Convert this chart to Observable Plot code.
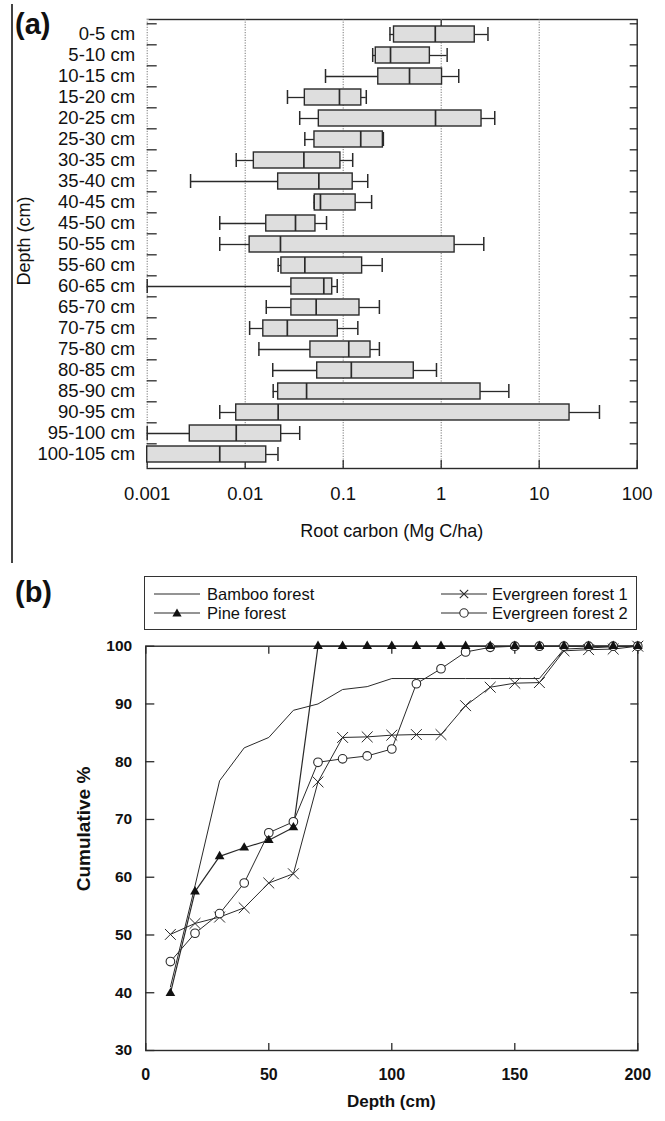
<!DOCTYPE html>
<html>
<head>
<meta charset="utf-8">
<script src="https://cdn.jsdelivr.net/npm/d3@7"></script>
<script src="https://cdn.jsdelivr.net/npm/@observablehq/plot@0.6"></script>
<style>
  html, body { margin: 0; padding: 0; background: #fff; }
  #page { position: relative; width: 665px; height: 1121px; overflow: hidden; background: #fff;
          font-family: "Liberation Sans", Arial, Helvetica, sans-serif; color: #111; }
  .abs { position: absolute; white-space: nowrap; line-height: 1; }
  #page svg.plot { position: absolute; left: 0; }
</style>
</head>
<body>
<div id="page"></div>
<script>
// ---------------- Panel (a) data: root carbon by depth class (Mg C/ha) ----------------
const depthClasses = ["0-5 cm","5-10 cm","10-15 cm","15-20 cm","20-25 cm","25-30 cm","30-35 cm",
  "35-40 cm","40-45 cm","45-50 cm","50-55 cm","55-60 cm","60-65 cm","65-70 cm","70-75 cm",
  "75-80 cm","80-85 cm","85-90 cm","90-95 cm","95-100 cm","100-105 cm"];
const whiskerLow  = [0.30, 0.20, 0.066, 0.027, 0.036, 0.0406, 0.0081, 0.00277, 0.0505, 0.0055, 0.0055,
  0.0217, 0.001, 0.0164, 0.0111, 0.0138, 0.0191, 0.0193, 0.0055, 0.001, 0.001];
const quartile1   = [0.33, 0.215, 0.228, 0.0406, 0.0564, 0.0509, 0.01225, 0.0217, 0.0513, 0.0164, 0.0111,
  0.0234, 0.0296, 0.0296, 0.0153, 0.0463, 0.0543, 0.0217, 0.0081, 0.00272, 0.001];
const medians     = [0.87, 0.304, 0.475, 0.0916, 0.875, 0.151, 0.0397, 0.0564, 0.0586, 0.0326, 0.0229,
  0.0406, 0.0634, 0.053, 0.0269, 0.114, 0.121, 0.0423, 0.0217, 0.0081, 0.0055];
const quartile3   = [2.2, 0.766, 1.02, 0.153, 2.58, 0.254, 0.0937, 0.125, 0.134, 0.0521, 1.37,
  0.156, 0.0773, 0.1466, 0.0881, 0.19, 0.525, 2.52, 20.4, 0.0233, 0.0164];
const whiskerHigh = [3.0, 1.15, 1.51, 0.172, 3.52, 0.257, 0.125, 0.178, 0.195, 0.0676, 2.72,
  0.25, 0.0869, 0.234, 0.141, 0.234, 0.895, 4.9, 41.2, 0.036, 0.0216];
const xTickValues = [0.001, 0.01, 0.1, 1, 10, 100];
const xTickLabels = ["0.001", "0.01", "0.1", "1", "10", "100"];
const gridValues  = [0.001, 0.01, 0.1, 1, 10];

// ---------------- Panel (b) data: cumulative % by depth ----------------
const profileDepth = [10,20,30,40,50,60,70,80,90,100,110,120,130,140,150,160,170,180,190,200];
const bamboo     = [41, 58.5, 76.7, 82.4, 84.2, 88.9, 90.0, 92.5, 93.0, 94.4, 94.4, 94.4, 94.4, 94.4, 94.4, 94.4, 99.5, 99.7, 99.9, 100];
const pine       = [39.9, 57.5, 63.6, 65.1, 66.4, 68.6, 100, 100, 100, 100, 100, 100, 100, 100, 100, 100, 100, 100, 100, 100];
const evergreen1 = [50.1, 52.0, 53.1, 54.7, 59.0, 60.6, 76.5, 84.2, 84.3, 84.6, 84.7, 84.7, 89.7, 92.9, 93.6, 93.7, 99.2, 99.4, 99.5, 100];
const evergreen2 = [45.4, 50.3, 53.7, 59.0, 67.7, 69.6, 79.9, 80.5, 81.0, 82.2, 93.5, 96.1, 99.0, 99.8, 100, 100, 100, 100, 100, 100];
const yTicksB = [30, 40, 50, 60, 70, 80, 90, 100];
const xTicksB = [0, 50, 100, 150, 200];
const seriesNames = ["Bamboo forest", "Pine forest", "Evergreen forest 1", "Evergreen forest 2"];

// ---------------- Layout ----------------
const W = 665;
const FONT = "Liberation Sans, Arial, Helvetica, sans-serif";
const INK = "#2a2a2a";
const page = document.getElementById("page");

// Panel (a)
const aH = 560, aTop = 19, aBottom = 468, aLeft = 146.7, aRight = 636.7;
const step = (aBottom - aTop) / depthClasses.length;
const rows = depthClasses.map((d, i) => ({
  depth: d, lo: whiskerLow[i], q1: quartile1[i], med: medians[i], q3: quartile3[i], hi: whiskerHigh[i]
}));

const plotA = Plot.plot({
  width: W, height: aH,
  marginLeft: aLeft, marginRight: W - aRight, marginTop: aTop, marginBottom: aH - aBottom,
  style: {fontFamily: FONT, fontSize: "18.5px", color: "#111", background: "transparent"},
  x: {type: "log", domain: [0.001, 100], label: null},
  y: {domain: depthClasses, paddingInner: 0.25, paddingOuter: 0.125, align: 0.5, label: null},
  marks: [
    Plot.frame({stroke: INK, strokeWidth: 1.4}),
    Plot.ruleX([0.001], {stroke: "#fff", strokeWidth: 2.5}),
    Plot.ruleX(gridValues, {stroke: "#777", strokeWidth: 1, strokeDasharray: "1.2,1.4"}),
    Plot.axisY({anchor: "left", tickSize: 10, dx: 10, dy: -step / 2, fill: "none", stroke: INK, strokeWidth: 1.3, label: null}),
    Plot.axisY({anchor: "right", tickSize: 8, dx: -8, dy: -step / 2, fill: "none", stroke: INK, strokeWidth: 1.3, label: null}),
    Plot.axisX({anchor: "bottom", ticks: xTickValues, tickSize: 8, dy: -8, fill: "none", stroke: INK, strokeWidth: 1.3, label: null}),
    Plot.axisX({anchor: "top", ticks: [1], tickSize: 7, dy: 7, fill: "none", stroke: INK, strokeWidth: 1.3, label: null}),
    Plot.ruleY(rows, {y: "depth", x1: "lo", x2: "q1", stroke: INK, strokeWidth: 1.3}),
    Plot.ruleY(rows, {y: "depth", x1: "q3", x2: "hi", stroke: INK, strokeWidth: 1.3}),
    Plot.tickX(rows, {x: "lo", y: "depth", stroke: INK, strokeWidth: 1.5, insetTop: 1, insetBottom: 1}),
    Plot.tickX(rows, {x: "hi", y: "depth", stroke: INK, strokeWidth: 1.5, insetTop: 1, insetBottom: 1}),
    Plot.barX(rows, {y: "depth", x1: "q1", x2: "q3", fill: "#dedede", stroke: INK, strokeWidth: 1.4}),
    Plot.tickX(rows, {x: "med", y: "depth", stroke: INK, strokeWidth: 1.7}),
    Plot.axisY({anchor: "left", tickSize: 0, tickPadding: 12, fontSize: 18.5, fill: "#111", label: null}),
    Plot.axisX({anchor: "bottom", ticks: xTickValues, tickFormat: d => xTickLabels[xTickValues.indexOf(d)],
      tickSize: 0, tickPadding: 18.4, fontSize: 18.5, fill: "#111", label: null})
  ]
});
plotA.classList.add("plot");
plotA.style.top = "0px";
page.appendChild(plotA);

// Panel (b)
const bOff = 560, bH = 1121 - 560, bTop = 645.7, bBottom = 1050, bLeft = 145.3, bRight = 637.3;
const toRows = (vals) => profileDepth.map((d, i) => ({depth: d, value: vals[i]}));
const bambooRows = toRows(bamboo), pineRows = toRows(pine), eg1Rows = toRows(evergreen1), eg2Rows = toRows(evergreen2);

const plotB = Plot.plot({
  width: W, height: bH,
  marginLeft: bLeft, marginRight: W - bRight, marginTop: bTop - bOff, marginBottom: bOff + bH - bBottom,
  style: {fontFamily: FONT, fontSize: "16px", color: "#111", background: "transparent"},
  x: {domain: [0, 200], label: null},
  y: {domain: [30, 100], label: null},
  marks: [
    Plot.frame({stroke: INK, strokeWidth: 1.4}),
    Plot.axisY({anchor: "left", ticks: yTicksB, tickSize: 9, dx: 9, fill: "none", stroke: INK, strokeWidth: 1.3, label: null}),
    Plot.axisY({anchor: "right", ticks: yTicksB, tickSize: 8, dx: -8, fill: "none", stroke: INK, strokeWidth: 1.3, label: null}),
    Plot.axisX({anchor: "bottom", ticks: xTicksB, tickSize: 7, dy: -7, fill: "none", stroke: INK, strokeWidth: 1.3, label: null}),
    Plot.axisX({anchor: "top", ticks: xTicksB, tickSize: 7, dy: 7, fill: "none", stroke: INK, strokeWidth: 1.3, label: null}),
    Plot.axisY({anchor: "left", ticks: yTicksB, tickSize: 0, tickPadding: 13.6, fontSize: 15.5, fontWeight: "bold", fill: "#111", label: null}),
    Plot.axisX({anchor: "bottom", ticks: xTicksB, tickSize: 0, tickPadding: 18, fontSize: 16, fontWeight: "bold", fill: "#111", label: null}),
    Plot.line(bambooRows, {x: "depth", y: "value", stroke: INK, strokeWidth: 1}),
    Plot.line(eg1Rows, {x: "depth", y: "value", stroke: INK, strokeWidth: 1}),
    Plot.line(eg2Rows, {x: "depth", y: "value", stroke: INK, strokeWidth: 1}),
    Plot.line(pineRows, {x: "depth", y: "value", stroke: INK, strokeWidth: 1.2}),
    Plot.dot(eg1Rows, {x: "depth", y: "value", symbol: "times", r: 5, stroke: INK, strokeWidth: 1}),
    Plot.dot(eg2Rows, {x: "depth", y: "value", symbol: "circle", r: 4.3, fill: "#fff", stroke: INK, strokeWidth: 1.1}),
    Plot.dot(pineRows, {x: "depth", y: "value", symbol: "triangle", r: 3.6, fill: "#111", stroke: "none"})
  ]
});
plotB.classList.add("plot");
plotB.style.top = bOff + "px";
page.appendChild(plotB);

// ---------------- Text and decorations (HTML) ----------------
function addText(str, {x, y, size, weight = "normal", rotate = false, align = "center"}) {
  const el = document.createElement("div");
  el.className = "abs";
  el.textContent = str;
  el.style.fontSize = size + "px";
  el.style.fontWeight = weight;
  el.style.left = x + "px";
  el.style.top = y + "px";
  const tx = align === "center" ? "-50%" : "0";
  el.style.transform = `translate(${tx}, -50%)` + (rotate ? " rotate(-90deg)" : "");
  if (rotate) el.style.transform = "translate(-50%, -50%) rotate(-90deg)";
  page.appendChild(el);
  return el;
}

// left border line of panel (a)
const border = document.createElement("div");
border.className = "abs";
Object.assign(border.style, {left: "11px", top: "4px", width: "1.5px", height: "559px", background: "#444"});
page.appendChild(border);

addText("(a)", {x: 15, y: 24, size: 29, weight: "bold", align: "left"});
addText("Depth (cm)", {x: 24, y: 241, size: 18, rotate: true});
addText("Root carbon (Mg C/ha)", {x: (aLeft + aRight) / 2, y: 531, size: 18});

addText("(b)", {x: 15, y: 592, size: 29, weight: "bold", align: "left"});
addText("Cumulative %", {x: 83, y: 829, size: 19, weight: "bold", rotate: true});
addText("Depth (cm)", {x: (bLeft + bRight) / 2, y: 1101, size: 17, weight: "bold"});

// legend
const legend = document.createElement("div");
legend.className = "abs";
Object.assign(legend.style, {left: "144px", top: "576px", width: "491px", height: "52px",
  border: "1.5px solid #333", background: "#fff"});
page.appendChild(legend);

function swatch(kind) {
  let m = "";
  if (kind === "triangle") m = `<path d="M23,2.4 L27.6,10.6 L18.4,10.6 Z" fill="#111"/>`;
  if (kind === "circle") m = `<circle cx="23" cy="7" r="4.2" fill="#fff" stroke="${INK}" stroke-width="1.1"/>`;
  if (kind === "times") m = `<path d="M18.8,2.8 L27.2,11.2 M27.2,2.8 L18.8,11.2" stroke="${INK}" stroke-width="1.1"/>`;
  return `<svg width="46" height="14" viewBox="0 0 46 14" style="display:block"><line x1="0" y1="7" x2="46" y2="7" stroke="${INK}" stroke-width="1.1"/>${m}</svg>`;
}
const legendItems = [
  {name: seriesNames[0], kind: "none",     sx: 154, tx: 207, cy: 594},
  {name: seriesNames[1], kind: "triangle", sx: 154, tx: 207, cy: 613},
  {name: seriesNames[2], kind: "times",    sx: 441, tx: 492, cy: 594},
  {name: seriesNames[3], kind: "circle",   sx: 441, tx: 492, cy: 613}
];
for (const it of legendItems) {
  const sw = document.createElement("div");
  sw.className = "abs";
  sw.style.left = it.sx + "px";
  sw.style.top = (it.cy - 7) + "px";
  sw.innerHTML = swatch(it.kind);
  page.appendChild(sw);
  addText(it.name, {x: it.tx, y: it.cy, size: 16.5, align: "left"});
}
</script>
</body>
</html>
